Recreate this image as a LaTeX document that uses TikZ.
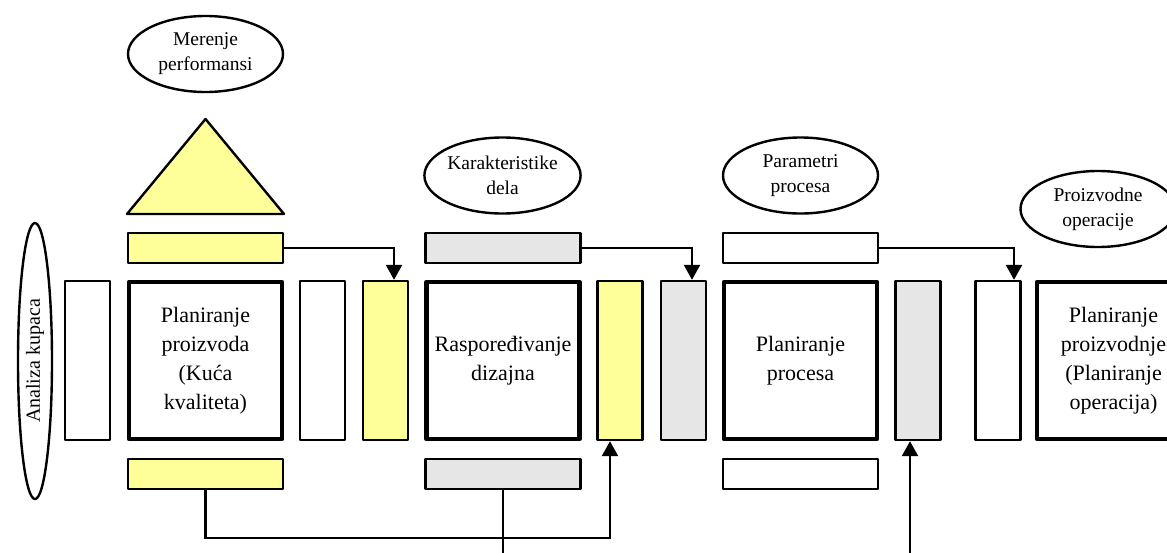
\documentclass[tikz,border=0pt]{standalone}
\usepackage{fontspec}
\setmainfont{Liberation Serif}
\usetikzlibrary{shapes.geometric,arrows.meta,calc}
\definecolor{qyellow}{HTML}{FFFF99}
\definecolor{qgray}{HTML}{E6E6E6}
\newcommand{\boxfnt}{\fontsize{22}{29}\selectfont}
\newcommand{\ovalfnt}{\fontsize{19.5}{25}\selectfont}
\tikzset{
  thinbox/.style={draw, line width=2.4pt, line join=round, minimum width=45pt, minimum height=159pt, inner sep=0pt},
  widebox/.style={draw, line width=2.4pt, line join=round, minimum width=155pt, minimum height=30pt, inner sep=0pt},
  mainbox/.style={draw, line width=4.5pt, line join=round, minimum width=153pt, minimum height=157pt, inner sep=0pt, align=center, font=\boxfnt},
  oval/.style={ellipse, draw, line width=2.4pt, minimum width=155pt, minimum height=76pt, inner sep=0pt, align=center, font=\ovalfnt},
  conn/.style={line width=2.4pt, -{Triangle[length=15pt,width=16pt]}},
  plainline/.style={line width=2.4pt}
}
\begin{document}
\begin{tikzpicture}[x=1pt,y=-1pt]
\useasboundingbox (0,0) rectangle (1167,552);
\clip (0,0) rectangle (1167,552);
\fill[white] (0,0) rectangle (1167,552);

% ovals
\node[oval] (o1) at (205.5,54) {Merenje\\performansi};
\node[oval] (o2) at (502.5,175.5) {Karakteristike\\dela};
\node[oval] (o3) at (800.5,175.5) {Parametri\\procesa};
\node[oval] (o4) at (1098,209) {Proizvodne\\operacije};
\node[ellipse, draw, line width=2.4pt, minimum width=34pt, minimum height=276pt, inner sep=0pt] (ak) at (35,361) {};
\node[rotate=90, font=\fontsize{20}{24}\selectfont] (akt) at (35,361) {Analiza kupaca};

% triangle
\draw[line width=2.4pt, line join=round, fill=qyellow] (127,214) -- (205.5,119) -- (284,214) -- cycle;

% top wide boxes
\node[widebox, fill=qyellow] (t1) at (205.5,248) {};
\node[widebox, fill=qgray] (t2) at (503,248) {};
\node[widebox, fill=white] (t3) at (800.5,248) {};

% bottom wide boxes
\node[widebox, fill=qyellow] (b1) at (205.5,474) {};
\node[widebox, fill=qgray] (b2) at (503,474) {};
\node[widebox, fill=white] (b3) at (800.5,474) {};

% main boxes
\node[mainbox] (m1) at (205.5,360.5) {Planiranje\\proizvoda\\(Kuća\\kvaliteta)};
\node[mainbox] (m2) at (503,360.5) {Raspoređivanje\\dizajna};
\node[mainbox] (m3) at (800.5,360.5) {Planiranje\\procesa};
\node[mainbox] (m4) at (1113.5,360.5) {Planiranje\\proizvodnje\\(Planiranje\\operacija)};

% thin boxes
\node[thinbox, fill=white] (l0) at (87.5,360.5) {};
\node[thinbox, fill=white] (w1) at (322.5,360.5) {};
\node[thinbox, fill=qyellow] (y1) at (385.5,360.5) {};
\node[thinbox, fill=qyellow] (y2) at (620,360.5) {};
\node[thinbox, fill=qgray] (g2) at (683.5,360.5) {};
\node[thinbox, fill=qgray] (g3) at (918,360.5) {};
\node[thinbox, fill=white] (w3) at (998,360.5) {};

% connectors
\draw[conn] (t1.east) -| ([xshift=8.5pt]y1.north);
\draw[conn] (t2.east) -| ([xshift=8.5pt]g2.north);
\draw[conn] (t3.east) -| ([xshift=16pt]w3.north);
\draw[conn] (b1.south) -- ++(0,48) -| ([xshift=-10pt]y2.south);
\coordinate (e2) at (503,560);
\draw[plainline] (b2.south) -- (e2);
\coordinate (e3) at (910,560);
\draw[conn] (e3) -- ([xshift=-8pt]g3.south);
\end{tikzpicture}
\end{document}
